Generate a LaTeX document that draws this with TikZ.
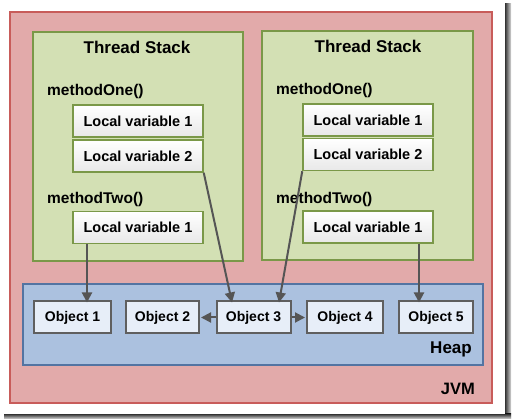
\documentclass[tikz,border=0pt]{standalone}
\usepackage{fontspec}
\setmainfont{Liberation Sans}
\usetikzlibrary{arrows.meta,calc}
\definecolor{jvmfill}{HTML}{E2AAAA}
\definecolor{jvmdraw}{HTML}{C85C5A}
\definecolor{tsfill}{HTML}{D3E0B4}
\definecolor{tsdraw}{HTML}{7A9848}
\definecolor{heapfill}{HTML}{ABC1DF}
\definecolor{heapdraw}{HTML}{5374A2}
\definecolor{objfill}{HTML}{E7EEF8}
\definecolor{objdraw}{HTML}{5F5F5F}
\definecolor{arrowc}{HTML}{555555}
\begin{document}
\begin{tikzpicture}[x=1pt,y=-1pt,
  region/.style={line width=1.5pt},
  lvbox/.style={draw=tsdraw,line width=1.5pt,top color=white,bottom color=black!9,
    minimum width=130pt,minimum height=32pt,inner sep=0pt,
    font=\fontsize{14.5}{16}\selectfont\bfseries},
  objbox/.style={draw=objdraw,fill=objfill,line width=2pt,minimum height=32pt,inner sep=0pt,
    font=\fontsize{14}{16}\selectfont\bfseries},
  title/.style={anchor=base,inner sep=0pt,font=\fontsize{17}{20}\selectfont\bfseries},
  meth/.style={anchor=base west,inner sep=0pt,font=\fontsize{15.5}{18}\selectfont\bfseries},
  ptr/.style={draw=arrowc,line width=2pt,-{Triangle[length=10pt,width=10pt]}}
]
\useasboundingbox (0,0) rectangle (512,419);
\fill[white] (0,0) rectangle (512,419);
% shadow
\shade[left color=black!80,right color=black!15] (505,4) rectangle (511,419);
\shade[top color=black!80,bottom color=black!15] (4,414) rectangle (511,419);
\fill[white] (0,0) rectangle (505,414);
% JVM
\draw[region,draw=jvmdraw,fill=jvmfill] (10,12) rectangle (492,403);
% thread stacks
\draw[region,draw=tsdraw,fill=tsfill] (33,32) rectangle (243,261);
\draw[region,draw=tsdraw,fill=tsfill] (262,31) rectangle (473,260);
% heap
\draw[region,draw=heapdraw,fill=heapfill] (23,284) rectangle (483,365);

\node[title] (ts1) at (137,54) {Thread Stack};
\node[title] (ts2) at (368,53) {Thread Stack};
\node[meth] (m11) at (47,96) {methodOne()};
\node[meth] (m12) at (47,204) {methodTwo()};
\node[meth] (m21) at (276,95) {methodOne()};
\node[meth] (m22) at (276,204) {methodTwo()};

\node[lvbox] (lv11) at (138,121) {Local variable 1};
\node[lvbox] (lv12) at (138,156) {Local variable 2};
\node[lvbox] (lv13) at (138,227.5) {Local variable 1};
\node[lvbox] (lv21) at (368,120) {Local variable 1};
\node[lvbox] (lv22) at (368,154.5) {Local variable 2};
\node[lvbox] (lv23) at (368,227) {Local variable 1};

\node[objbox,minimum width=77pt] (o1) at (72.5,317.5) {Object 1};
\node[objbox,minimum width=73pt] (o2) at (162.5,317.5) {Object 2};
\node[objbox,minimum width=74pt] (o3) at (253.5,317.5) {Object 3};
\node[objbox,minimum width=76pt] (o4) at (345,317.5) {Object 4};
\node[objbox,minimum width=74pt] (o5) at (436,317.5) {Object 5};

\node[anchor=base east,inner sep=0pt,font=\fontsize{17}{20}\selectfont\bfseries] (heap) at (472,354) {Heap};
\node[anchor=base east,inner sep=0pt,font=\fontsize{16.5}{20}\selectfont\bfseries] (jvm) at (475,395) {JVM};

\coordinate (a1) at ([xshift=-51pt]lv13.south);
\draw[ptr] (a1) -- ([yshift=-2pt]a1 |- o1.north);
\draw[ptr] (lv12.south east) -- ([xshift=-21.5pt,yshift=-2pt]o3.north);
\draw[ptr] (lv22.south west) -- ([xshift=25.5pt,yshift=-2pt]o3.north);
\coordinate (a4) at ([xshift=51pt]lv23.south);
\draw[ptr] (a4) -- ([yshift=-2pt]a4 |- o5.north);
\draw[ptr] (o3.west) -- ([xshift=1pt]o2.east);
\draw[ptr] (o3.east) -- ([xshift=-1pt]o4.west);
\end{tikzpicture}
\end{document}
